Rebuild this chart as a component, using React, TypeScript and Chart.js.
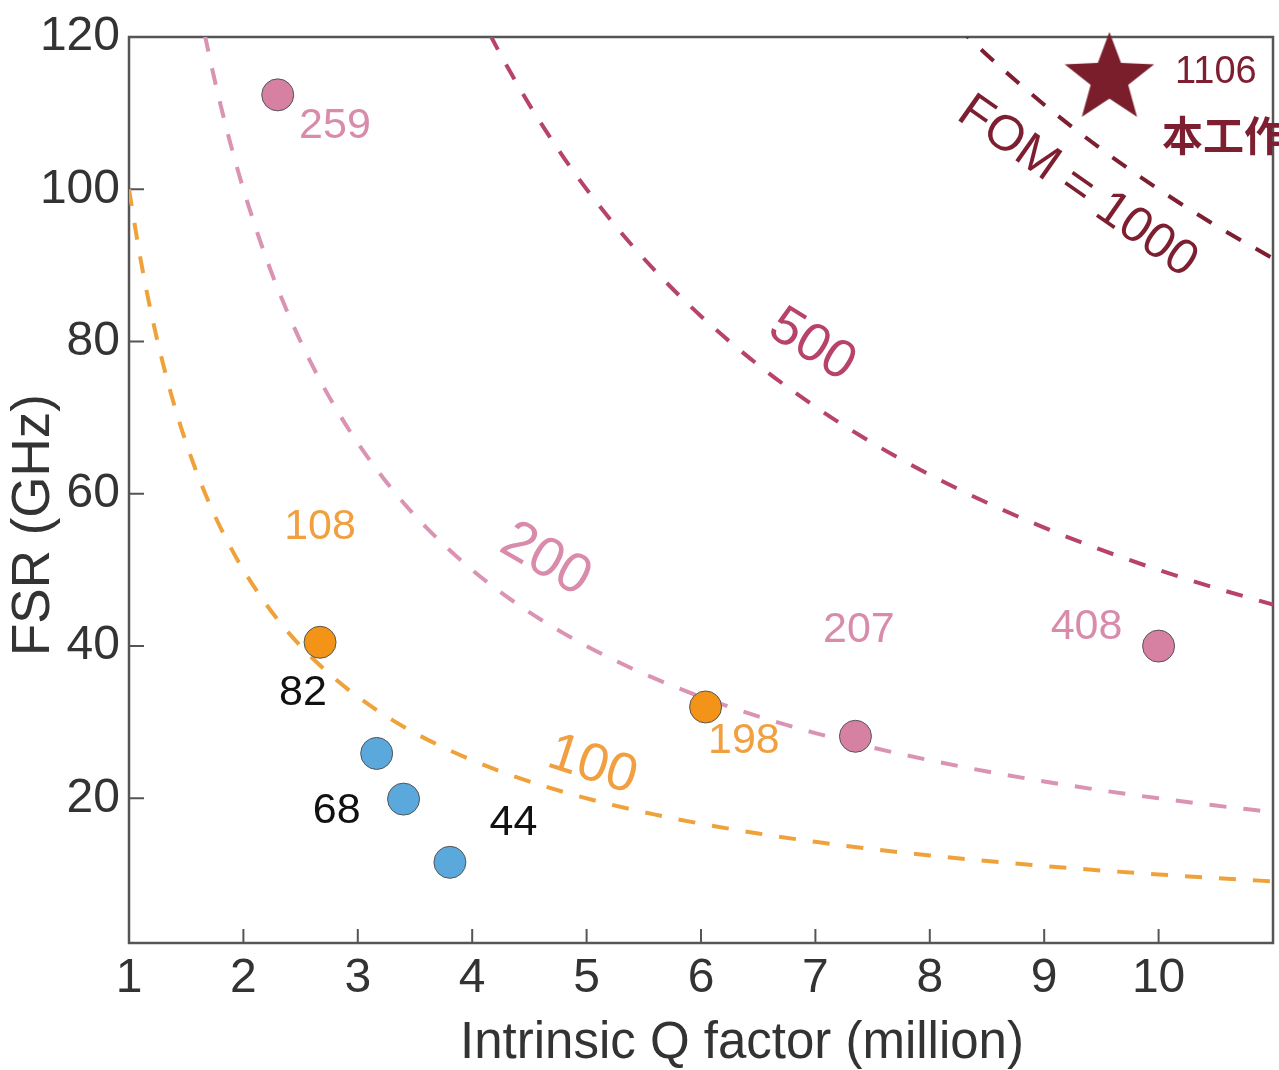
import { useEffect, useRef } from 'react';
import { Chart, registerables } from 'chart.js';

Chart.register(...registerables);

// ---- data ----
const xTicks = [1, 2, 3, 4, 5, 6, 7, 8, 9, 10];
const yTicks = [20, 40, 60, 80, 100, 120];

const pinkQ = [2.3, 7.35, 10.0];
const pinkFSR = [112.4, 28.15, 40.0];
const orangeQ = [2.67, 6.04];
const orangeFSR = [40.5, 32.0];
const blueQ = [3.165, 3.4, 3.805];
const blueFSR = [25.9, 19.9, 11.6];
const starQ = [9.57];
const starFSR = [114.5];

// iso-FOM reference lines (FOM = Q x FSR)
const fomLevels = [100, 200, 500, 1000];
const curveQ = [
  1, 1.1, 1.2, 1.3, 1.4, 1.5, 1.6, 1.7, 1.8, 1.9, 2, 2.2, 2.4, 2.6, 2.8, 3, 3.3, 3.6, 4, 4.4, 4.8,
  5.2, 5.6, 6, 6.5, 7, 7.5, 8, 8.5, 9, 9.5, 10, 10.5, 11,
];

const xTitle = 'Intrinsic Q factor (million)';
const yTitle = 'FSR (GHz)';

const FONT = '"Liberation Sans", Arial, Helvetica, sans-serif';

const COL = {
  orangeLine: '#F0A23A',
  orangePt: '#F39317',
  orangeTxt: '#F0A040',
  pinkLine: '#DA93B3',
  pinkPt: '#D681A2',
  pinkTxt: '#D98BAB',
  l500: '#B8436A',
  l1000: '#7D1F30',
  star: '#7A1E2C',
  blue: '#5AA8DC',
  axis: '#555555',
  text: '#333333',
};

const curveColors = [COL.orangeLine, COL.pinkLine, COL.l500, COL.l1000];

// text annotations (data coordinates)
const annotations = [
  { t: '259', x: 2.8, y: 108.3, c: COL.pinkTxt, s: 43, r: 0 },
  { t: '108', x: 2.67, y: 55.6, c: COL.orangeTxt, s: 43, r: 0 },
  { t: '82', x: 2.52, y: 33.8, c: '#111', s: 43, r: 0 },
  { t: '68', x: 2.815, y: 18.3, c: '#111', s: 43, r: 0 },
  { t: '44', x: 4.36, y: 16.8, c: '#111', s: 43, r: 0 },
  { t: '198', x: 6.375, y: 27.5, c: COL.orangeTxt, s: 43, r: 0 },
  { t: '207', x: 7.38, y: 42.1, c: COL.pinkTxt, s: 43, r: 0 },
  { t: '408', x: 9.37, y: 42.5, c: COL.pinkTxt, s: 43, r: 0 },
  { t: '1106', x: 10.5, y: 115.4, c: COL.l1000, s: 38, r: 0 },
  { t: '本工作', x: 10.03, y: 107.1, c: COL.l1000, s: 41, r: 0, bold: true, left: true },
  { t: '100', x: 5.05, y: 24.3, c: COL.orangeTxt, s: 54, r: 18 },
  { t: '200', x: 4.64, y: 51.3, c: COL.pinkTxt, s: 56, r: 30 },
  { t: '500', x: 6.97, y: 79.5, c: COL.l500, s: 54, r: 32 },
  { t: 'FOM = 1000', x: 9.29, y: 100.3, c: COL.l1000, s: 50, r: 35 },
];

function makeStar(R: number, color: string) {
  const c = document.createElement('canvas');
  const size = Math.ceil(R * 2 + 4);
  c.width = size;
  c.height = size;
  const g = c.getContext('2d')!;
  const cx = size / 2;
  const cy = size / 2;
  const r = R * 0.42;
  g.beginPath();
  for (let i = 0; i < 10; i++) {
    const rad = i % 2 === 0 ? R : r;
    const a = -Math.PI / 2 + (i * Math.PI) / 5;
    const px = cx + rad * Math.cos(a);
    const py = cy + rad * Math.sin(a);
    if (i === 0) g.moveTo(px, py);
    else g.lineTo(px, py);
  }
  g.closePath();
  g.fillStyle = color;
  g.fill();
  return c;
}

const framePlugin = {
  id: 'frame',
  beforeDatasetsDraw(chart: any) {
    const { ctx, chartArea: a, scales } = chart;
    const xs = scales.x;
    const ys = scales.y;
    ctx.save();
    ctx.strokeStyle = COL.axis;
    ctx.lineWidth = 2.5;
    ctx.strokeRect(a.left, a.top, a.right - a.left, a.bottom - a.top);
    ctx.lineWidth = 2;
    ctx.beginPath();
    xTicks.forEach((v) => {
      if (v === 1) return;
      const px = xs.getPixelForValue(v);
      ctx.moveTo(px, a.bottom);
      ctx.lineTo(px, a.bottom - 14);
    });
    yTicks.forEach((v) => {
      if (v === 120) return;
      const py = ys.getPixelForValue(v);
      ctx.moveTo(a.left, py);
      ctx.lineTo(a.left + 15, py);
    });
    ctx.stroke();
    ctx.restore();
  },
  afterDatasetsDraw(chart: any) {
    const { ctx, scales } = chart;
    const xs = scales.x;
    const ys = scales.y;
    annotations.forEach((an: any) => {
      ctx.save();
      ctx.translate(xs.getPixelForValue(an.x), ys.getPixelForValue(an.y));
      ctx.rotate((an.r * Math.PI) / 180);
      ctx.font = `${an.bold ? 'bold ' : ''}${an.s}px ${an.bold ? '"Noto Sans CJK SC", ' : ''}${FONT}`;
      ctx.fillStyle = an.c;
      ctx.textAlign = an.left ? 'left' : 'center';
      ctx.textBaseline = 'middle';
      ctx.fillText(an.t, 0, 0);
      ctx.restore();
    });
    // axis titles
    ctx.save();
    ctx.fillStyle = COL.text;
    ctx.textAlign = 'center';
    ctx.textBaseline = 'middle';
    ctx.font = `51px ${FONT}`;
    ctx.fillText(xTitle, 742, 1044);
    ctx.translate(34, 525);
    ctx.rotate(-Math.PI / 2);
    ctx.font = `53px ${FONT}`;
    ctx.fillText(yTitle, 0, 0);
    ctx.restore();
  },
};

export default function App() {
  const ref = useRef<HTMLCanvasElement>(null);

  useEffect(() => {
    document.body.style.margin = '0';
    const star = makeStar(47, COL.star);

    const pts = (xs: number[], ys: number[]) => xs.map((q, i) => ({ x: q, y: ys[i] }));

    const curveSets = fomLevels.map((f, i) => ({
      type: 'line' as const,
      data: curveQ.map((q) => ({ x: q, y: f / q })).filter((p) => p.y <= 200),
      borderColor: curveColors[i],
      borderWidth: 4,
      borderDash: [17, 17],
      pointRadius: 0,
      showLine: true,
      fill: false,
      cubicInterpolationMode: 'monotone' as const,
      order: 5,
    }));

    const pointSet = (data: any, color: string) => ({
      type: 'scatter' as const,
      data,
      backgroundColor: color,
      borderColor: '#555',
      borderWidth: 1,
      pointRadius: 16,
      pointHoverRadius: 16,
      clip: false as any,
      order: 1,
    });

    const noPad = (s: any) => {
      s.paddingLeft = 0;
      s.paddingRight = 0;
      s.paddingTop = 0;
      s.paddingBottom = 0;
    };

    const chart = new Chart(ref.current!, {
      type: 'scatter',
      data: {
        datasets: [
          {
            type: 'scatter',
            data: pts(starQ, starFSR),
            pointStyle: star as any,
            pointRadius: 47,
            clip: false as any,
            order: 0,
          } as any,
          pointSet(pts(pinkQ, pinkFSR), COL.pinkPt),
          pointSet(pts(orangeQ, orangeFSR), COL.orangePt),
          pointSet(pts(blueQ, blueFSR), COL.blue),
          ...curveSets,
        ] as any,
      },
      options: {
        animation: false,
        responsive: false,
        events: [],
        layout: { autoPadding: false, padding: { top: 37, right: 6, left: 0, bottom: 0 } },
        plugins: { legend: { display: false }, tooltip: { enabled: false } },
        scales: {
          x: {
            type: 'linear',
            min: 1,
            max: 11,
            afterBuildTicks: (s: any) => {
              s.ticks = xTicks.map((v) => ({ value: v }));
            },
            afterFit: (s: any) => {
              s.height = 127;
              noPad(s);
            },
            grid: { display: false, drawTicks: false },
            border: { display: false },
            ticks: {
              autoSkip: false,
              maxRotation: 0,
              padding: 7,
              color: COL.text,
              font: { family: FONT, size: 48 },
            },
            title: { display: false },
          },
          y: {
            type: 'linear',
            min: 1,
            max: 120,
            afterBuildTicks: (s: any) => {
              s.ticks = yTicks.map((v) => ({ value: v }));
            },
            afterFit: (s: any) => {
              s.width = 129;
              noPad(s);
            },
            grid: { display: false, drawTicks: false },
            border: { display: false },
            ticks: {
              autoSkip: false,
              padding: 9,
              color: COL.text,
              font: { family: FONT, size: 48 },
            },
            title: { display: false },
          },
        },
      },
      plugins: [framePlugin],
    });
    return () => chart.destroy();
  }, []);

  return (
    <div style={{ position: 'absolute', left: 0, top: 0, width: 1279, height: 1070 }}>
      <canvas ref={ref} width={1279} height={1070} style={{ display: 'block' }} />
    </div>
  );
}
